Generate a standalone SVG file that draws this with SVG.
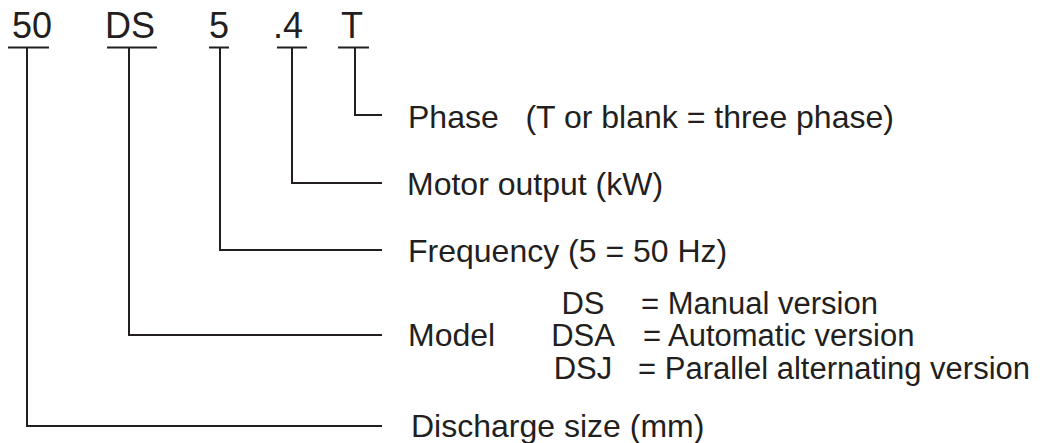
<svg xmlns="http://www.w3.org/2000/svg" width="1049" height="443" viewBox="0 0 1049 443">
<style>
.code{font-family:"Liberation Sans",Arial,sans-serif;font-size:36px;fill:#231f20}
.lbl{font-family:"Liberation Sans",Arial,sans-serif;font-size:32px;fill:#231f20}
.sub{font-family:"Liberation Sans",Arial,sans-serif;font-size:31px;fill:#231f20}
.ln{stroke:#231f20;stroke-width:2;fill:none}
</style>
<rect width="1049" height="443" fill="#fff"/>
<g id="codes">
<g id="code-50"><text class="code" x="12" y="38">50</text><line class="ln" x1="8" y1="47.5" x2="49" y2="47.5"/></g>
<g id="code-DS"><text class="code" x="105" y="38">DS</text><line class="ln" x1="107" y1="47.5" x2="157" y2="47.5"/></g>
<g id="code-5"><text class="code" x="209" y="38">5</text><line class="ln" x1="209" y1="47.5" x2="229" y2="47.5"/></g>
<g id="code-4"><text class="code" x="273" y="38">.4</text><line class="ln" x1="277" y1="47.5" x2="307" y2="47.5"/></g>
<g id="code-T"><text class="code" x="341" y="38">T</text><line class="ln" x1="338" y1="47.5" x2="369" y2="47.5"/></g>
</g>
<g id="connectors">
<polyline class="ln" points="355,47.5 355,115 382,115"/>
<polyline class="ln" points="292,47.5 292,183 382,183"/>
<polyline class="ln" points="220,47.5 220,250 382,250"/>
<polyline class="ln" points="129,47.5 129,335 382,335"/>
<polyline class="ln" points="27,47.5 27,426 382,426"/>
</g>
<g id="phase"><text class="lbl" x="408" y="128" xml:space="preserve">Phase   (T or blank = three phase)</text></g>
<g id="motor"><text class="lbl" x="407" y="195">Motor output (kW)</text></g>
<g id="frequency"><text class="lbl" x="408" y="262">Frequency (5 = 50 Hz)</text></g>
<g id="model">
<text class="lbl" x="408" y="346">Model</text>
<text class="sub" text-anchor="middle"><tspan x="583" y="314">DS</tspan><tspan x="583" y="346">DSA</tspan><tspan x="583" y="379">DSJ</tspan></text>
<text class="sub"><tspan x="641" y="314">= Manual version</tspan><tspan x="643" y="346">= Automatic version</tspan><tspan x="638" y="379">= Parallel alternating version</tspan></text>
</g>
<g id="discharge"><text class="lbl" x="411" y="437">Discharge size (mm)</text></g>
</svg>
